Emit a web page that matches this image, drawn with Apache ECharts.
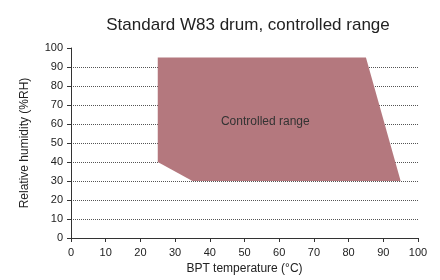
<!DOCTYPE html>
<html>
<head>
<meta charset="utf-8">
<script src="https://cdn.jsdelivr.net/npm/echarts@6/dist/echarts.min.js"></script>
<style>
  html, body { margin: 0; padding: 0; background: #fff; }
  #chart { width: 440px; height: 280px; }
</style>
</head>
<body>
<div id="chart"></div>
<script>
// corners of the controlled range (BPT temperature, %RH)
var rangeTemp = [25, 85, 95, 35, 25];
var rangeHumidity = [95, 95, 30, 30, 40];
var labelPoint = [56, 61];
var xTicks = [0, 10, 20, 30, 40, 50, 60, 70, 80, 90, 100];
var yTicks = [0, 10, 20, 30, 40, 50, 60, 70, 80, 90, 100];

var points = rangeTemp.map(function (t, i) { return [t, rangeHumidity[i]]; });

var myChart = echarts.init(document.getElementById('chart'));
var font = 'Liberation Sans, Arial, sans-serif';

option = {
    animation: false,
    textStyle: { fontFamily: font },
    title: {
        text: 'Standard W83 drum, controlled range',
        left: 243,
        top: 12,
        textAlign: 'center',
        textStyle: { fontSize: 17, fontWeight: 'normal', color: '#222', fontFamily: font }
    },
    grid: { left: 71, right: 22, top: 48, bottom: 36.5 },
    xAxis: {
        type: 'value',
        min: xTicks[0],
        max: xTicks[xTicks.length - 1],
        interval: 10,
        name: 'BPT temperature (°C)',
        nameLocation: 'middle',
        nameGap: 25,
        nameTextStyle: { fontSize: 12, color: '#222' },
        axisLine: { lineStyle: { color: '#333', width: 1 } },
        axisTick: { length: 4, lineStyle: { color: '#333' } },
        axisLabel: { fontSize: 11, color: '#222', margin: 9 },
        splitLine: { show: false }
    },
    yAxis: {
        type: 'value',
        min: yTicks[0],
        max: yTicks[yTicks.length - 1],
        interval: 10,
        name: 'Relative humidity (%RH)',
        nameLocation: 'middle',
        nameGap: 40,
        nameTextStyle: { fontSize: 12, color: '#222' },
        axisLine: { show: true, lineStyle: { color: '#333', width: 1 } },
        axisTick: { show: true, length: 4, lineStyle: { color: '#333' } },
        axisLabel: { fontSize: 11, color: '#222', margin: 8 },
        splitLine: {
            show: true,
            showMaxLine: false,
            showMinLine: false,
            lineStyle: { type: 'dotted', color: '#555', width: 1 }
        }
    },
    series: [{
        type: 'custom',
        silent: true,
        data: [0],
        renderItem: function (params, api) {
            var pts = points.map(function (p) { return api.coord(p); });
            var c = api.coord(labelPoint);
            return {
                type: 'group',
                children: [{
                    type: 'polygon',
                    shape: { points: pts },
                    style: { fill: '#b4787e' }
                }, {
                    type: 'text',
                    x: c[0],
                    y: c[1],
                    style: {
                        text: 'Controlled range',
                        fill: '#333',
                        font: '12px ' + font,
                        textAlign: 'center',
                        textVerticalAlign: 'middle'
                    }
                }]
            };
        }
    }]
};
myChart.setOption(option);
</script>
</body>
</html>
